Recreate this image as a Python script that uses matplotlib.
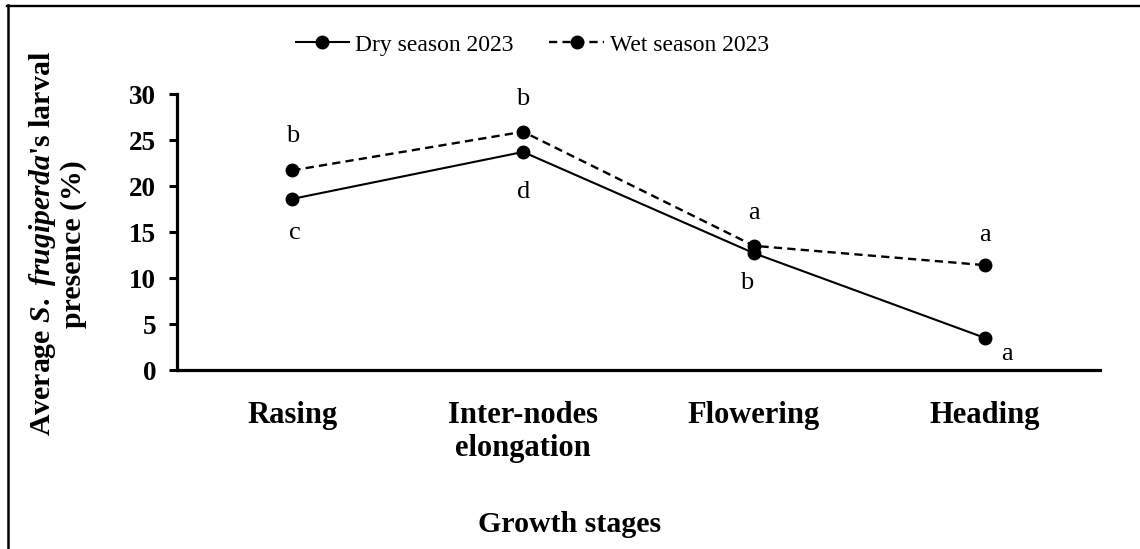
import matplotlib
matplotlib.use("Agg")
import matplotlib.pyplot as plt
from matplotlib.lines import Line2D

plt.rcParams['font.family'] = ['Liberation Serif', 'DejaVu Serif']
plt.rcParams['mathtext.fontset'] = 'custom'
plt.rcParams['mathtext.rm'] = 'Liberation Serif:bold'
plt.rcParams['mathtext.it'] = 'Liberation Serif:italic:bold'
plt.rcParams['mathtext.bf'] = 'Liberation Serif:bold'

categories = ["Rasing", "Inter-nodes\nelongation", "Flowering", "Heading"]
dry_2023 = [18.6, 23.7, 12.7, 3.5]
wet_2023 = [21.7, 25.9, 13.5, 11.4]
dry_letters = ["c", "d", "b", "a"]
wet_letters = ["b", "b", "a", "a"]
yticks = [0, 5, 10, 15, 20, 25, 30]

W, H = 1140, 549
fig = plt.figure(figsize=(W / 100, H / 100), dpi=100)
ax = fig.add_axes([177 / W, (H - 370) / H, (1100 - 177) / W, (370 - 94) / H])

x = list(range(len(categories)))
ax.plot(x, dry_2023, color='black', lw=1.5, marker='o', markersize=9,
        label='Dry season 2023', solid_capstyle='butt')
ax.plot(x, wet_2023, color='black', lw=1.7, marker='o', markersize=9,
        linestyle=(0, (3.5, 2.2)), label='Wet season 2023')

ax.set_xlim(-0.5, len(categories) - 0.5)
ax.set_ylim(0, 30)
ax.set_yticks(yticks)
ax.set_yticklabels([str(v) for v in yticks], fontsize=19.5, fontweight='bold')
ax.set_xticks(x)
ax.set_xticklabels(categories, fontsize=22, fontweight='bold', linespacing=1.2)
ax.tick_params(axis='x', length=0, pad=22)
ax.tick_params(axis='y', length=6, width=2.2, pad=9, direction='out')
for s in ['top', 'right']:
    ax.spines[s].set_visible(False)
for s in ['left', 'bottom']:
    ax.spines[s].set_linewidth(2.3)

# significance letters
wet_offsets = [(0, 34), (0, 33), (0, 33), (0, 30)]
dry_offsets = [(2, -34), (0, -40), (-7, -30), (22, -16)]
for i in x:
    ax.annotate(wet_letters[i], (x[i], wet_2023[i]), xytext=wet_offsets[i],
                textcoords='offset pixels', ha='center', va='center', fontsize=19)
    ax.annotate(dry_letters[i], (x[i], dry_2023[i]), xytext=dry_offsets[i],
                textcoords='offset pixels', ha='center', va='center', fontsize=19)

leg = fig.legend(loc='center', bbox_to_anchor=(532 / W, (H - 45) / H), ncol=2,
                 frameon=False, fontsize=17, handlelength=2.3,
                 handletextpad=0.25, columnspacing=1.5)

fig.text(57 / W, (H - 244) / H,
         "Average $\\mathit{S.\\ frugiperda}$'s larval\npresence (%)",
         rotation=90, ha='center', va='center', fontsize=21.5, fontweight='bold',
         multialignment='center', linespacing=1.1)
fig.text(570 / W, (H - 525) / H, "Growth stages", ha='center', va='center',
         fontsize=21.5, fontweight='bold')

# frame lines (top and left) of the cropped figure
fig.add_artist(Line2D([7 / W, 1.0], [(H - 6) / H, (H - 6) / H], color='black',
                      lw=1.7, transform=fig.transFigure))
fig.add_artist(Line2D([8 / W, 8 / W], [0, (H - 5) / H], color='black',
                      lw=1.8, transform=fig.transFigure))

fig.savefig('out.png', dpi=100)
